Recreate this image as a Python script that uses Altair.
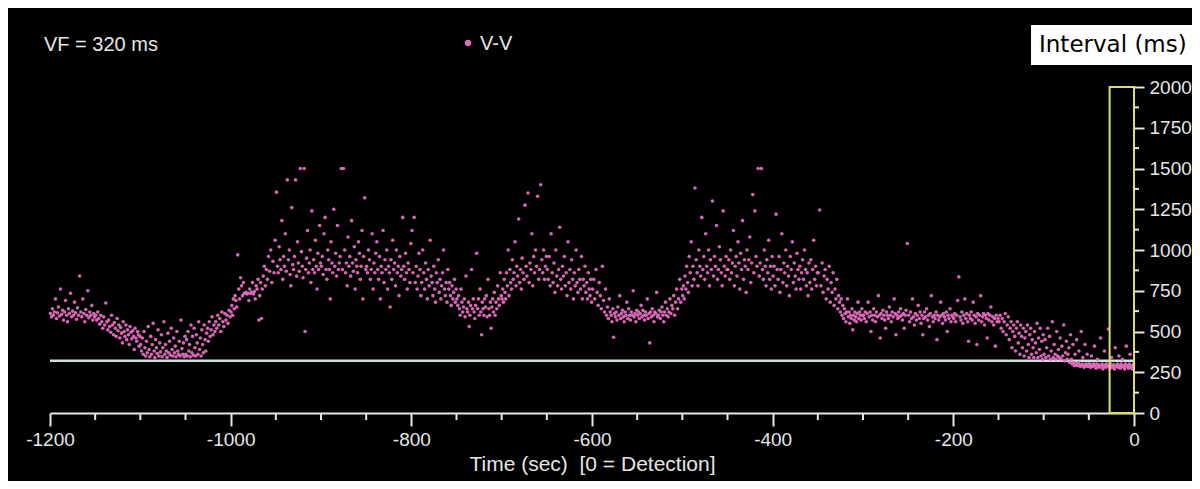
import altair as alt
import pandas as pd

# ---- beat-to-beat (V-V) intervals in ms, read per 50-second window ----
SEG_STARTS = [-1200, -1150, -1100, -1050, -1000, -950, -900, -850, -800, -750, -700, -650,
              -600, -550, -500, -450, -400, -350, -300, -250, -200, -150, -100, -50]
SEG_LEN = 50

S01 = [610,590,640,600,620,700,580,615,650,595,760,605,630,570,620,690,600,560,640,610,735,590,625,600,680,615,575,645,600,840,620,590,700,610,560,635,600,750,585,620,600,660,570,610,590]
S02 = [600,570,620,580,545,600,560,520,590,540,675,560,510,570,530,495,600,540,480,555,520,470,580,505,540,460,525,490,430,560,500,470,540,450,510,480,420,530,495,455,505,470,390,520,460,440,500,480,410,470]
S03 = [420,380,460,360,500,400,350,440,370,530,390,345,470,360,420,550,380,340,450,400,365,510,350,430,375,480,345,400,560,360,420,380,340,490,370,440,355,520,390,350,460,370,410,345,500,380,360,440,350,570,395,360,430,345,470]
S04 = [360,450,350,500,380,420,345,540,370,470,355,520,400,350,480,430,360,560,390,460,350,510,420,370,540,450,380,490,520,440,560,470,510,590,480,540,500,560,520,600,540,580,500,620,560,530,610,570,600,550,630,590]
S05 = [620,660,600,700,640,720,690,650,970,760,700,830,780,720,800,735,735,740,730,735,690,760,735,740,800,730,745,700,780,760,820,570,720,800,580,760,840,900,780,880,820,960,870,1000,800,930,860,1060]
S06 = [1355,900,860,1020,940,880,1180,820,960,900,1100,870,1430,940,1000,850,780,1260,910,880,960,1430,840,1050,920,870,1500,990,900,830,1500,500,880,950,1120,860,920,1000,800,1240,880,940,860,1060,900,760,980,880,1150,920]
S07 = [900,960,850,1100,1200,880,820,1000,940,880,700,1050,920,860,1250,900,980,840,1150,880,920,960,1500,880,1500,1000,860,920,780,1080,900,960,840,1180,920,870,1020,760,940,900,860,1050,980,820,900,1120,700,960,1320,880]
S08 = [900,860,1000,940,820,880,1100,760,920,860,980,1050,880,820,960,700,900,860,1120,800,940,880,1000,760,900,860,650,940,820,1060,880,920,780,1000,860,900,720,960,840,880,1200,900,820,980,860,760,920,880,800,1040]
S09 = [1120,860,1200,800,900,760,840,980,880,720,800,1000,860,760,920,820,700,880,780,1060,840,800,720,900,760,680,860,800,940,740,820,700,780,860,1000,760,720,800,680,880,760,800,720,660,780,700,740,820,680,760]
S10 = [700,660,720,640,600,760,680,620,650,700,590,840,640,620,680,530,600,660,880,640,700,620,580,660,980,640,700,600,760,620,480,680,640,600,700,650,720,590,820,640,600,680,520,650,700,620,740,600,680,640,780,700,660,860,720]
S11 = [700,760,680,820,740,700,860,780,1000,720,880,800,760,940,820,860,1050,780,900,840,1190,800,880,760,950,860,820,1275,900,840,1350,800,920,880,1100,780,960,860,1000,900,1330,820,880,1400,940,860,1000,820,900,960]
S12 = [880,820,960,780,1100,860,800,920,740,1000,840,780,880,1140,820,760,900,840,960,780,860,720,1050,800,880,760,940,820,700,860,780,1000,800,740,880,820,760,960,700,820,780,900,740,800,700,860,760,720,820,680]
S13 = [760,820,700,880,740,660,800,720,640,900,690,620,760,600,650,580,700,620,600,560,640,465,610,590,620,570,650,600,720,580,610,630,590,560,620,600,680,580,640,600,570,620,600,750,590,610,560,630]
S14 = [600,620,580,610,660,590,630,600,570,620,600,700,580,610,430,620,590,640,600,560,620,610,740,590,600,630,580,620,650,600,560,620,680,600,640,590,620,700,610,660,640,720,600,680,760,640,700,820,680,760]
S15 = [720,780,700,840,760,900,800,740,960,860,1050,780,900,820,1380,940,860,780,1000,900,840,1200,880,960,820,1100,900,860,1000,780,940,880,1300,840,960,900,1150,820,880,1020,940,860,780,1240,900,840,960,880]
S16 = [880,940,820,1000,860,920,1120,780,900,960,840,1050,920,760,980,880,1180,820,940,900,740,1000,880,940,1080,800,920,1340,860,1240,960,900,1500,840,920,1500,880,820,1000,900,780,940,860,1060,820,900,760,960]
S17 = [840,900,780,1220,880,820,960,740,880,1100,800,920,860,1000,780,900,840,720,960,880,1050,800,920,840,760,980,880,820,900,760,860,940,820,1000,880,780,860,720,920,800,940,760,880,1060,820,900,780,860]
S18 = [860,1245,780,920,740,840,880,700,820,760,900,680,800,740,860,660,760,700,820,640,720,680,620,700,600,660,580,640,610,560,620,700,590,620,550,600,580,640,510,600,570,620,590,560,610,680,580,620,600,570,640,600]
S19 = [600,580,620,560,610,680,590,620,500,600,570,640,600,560,620,590,720,600,460,610,580,630,600,570,520,620,600,580,650,600,560,620,590,700,610,480,600,580,620,590,640,600,570,610,520,600,630,1040]
S20 = [600,560,620,580,700,590,540,610,570,600,660,580,620,550,600,480,580,620,590,640,570,600,530,610,720,590,560,600,580,620,450,600,570,590,680,600,550,610,590,570,620,500,600,580,640,560,600,590]
S21 = [580,610,560,600,690,835,590,570,620,550,600,700,580,610,560,440,600,580,620,570,680,600,550,590,420,610,570,600,720,560,590,610,540,600,580,460,610,570,600,650,560,590,540,580,410,600,560,580]
S22 = [560,600,520,580,500,560,610,480,540,590,450,520,560,400,500,540,470,380,520,560,430,490,360,540,470,400,520,350,460,500,380,540,420,340,480,520,360,450,400,340,500,430,370,550,340,460,390,520,350,440,330,480]
S23 = [360,450,340,400,520,350,470,330,380,560,340,420,360,330,500,350,390,340,460,330,410,350,540,320,370,440,330,360,400,310,480,330,300,420,310,290,360,300,450,290,310,380,295,285,500,300,340,290,280,420,300,290,360,285,300]
S24 = [290,300,280,350,295,285,300,410,290,275,300,330,285,295,280,460,290,300,270,285,380,295,280,300,290,515,285,275,300,340,290,280,295,270,400,290,285,300,280,350,290,275,300,285,330,290,280,270,300,410,285,290,275,300,360,280,290,270,285,300]

SEGMENTS = [S01, S02, S03, S04, S05, S06, S07, S08, S09, S10, S11, S12,
            S13, S14, S15, S16, S17, S18, S19, S20, S21, S22, S23, S24]

VF_THRESHOLD = 320          # ms
DETECT_WINDOW = [-27, 0]    # sec (yellow box)
Y_MAX = 2000
X_TICKS = [-1200, -1000, -800, -600, -400, -200, 0]
X_MINOR = [-1150, -1100, -1050, -950, -900, -850, -750, -700, -650, -550, -500, -450,
           -350, -300, -250, -150, -100, -50]
Y_TICKS = [0, 250, 500, 750, 1000, 1250, 1500, 1750, 2000]
Y_MINOR = [125, 375, 625, 875, 1125, 1375, 1625, 1875]

# each beat is placed at the middle of its own interval, the window's intervals
# being stretched to fill their 50-second window
rows = []
for start, vals in zip(SEG_STARTS, SEGMENTS):
    total = float(sum(vals))
    acc = 0.0
    for v in vals:
        acc += v
        rows.append({"t": start + SEG_LEN * (acc - v / 2.0) / total, "v": v})
pts = pd.DataFrame(rows)

W, H = 1084, 326
FONT = "Liberation Sans, Arial, sans-serif"
FG = "#e6e6e6"
PINK = "#e06cbd"
NBSP = "\u00a0"

xscale = alt.Scale(domain=[-1200, 0], nice=False, zero=False)
yscale = alt.Scale(domain=[0, Y_MAX], nice=False)

XAX = alt.Axis(values=X_TICKS, title="Time (sec)" + NBSP * 2 + "[0 = Detection]",
               labelExpr="'' + datum.value",
               labelFontSize=19, labelFont=FONT, labelColor=FG,
               titleFont=FONT, titleFontSize=21, titleFontWeight="normal",
               titleColor=FG, titlePadding=4,
               tickSize=13, tickWidth=2, tickColor=FG,
               domainColor=FG, domainWidth=2, labelPadding=4,
               labelFlush=False, labelOverlap=False, grid=False)
YAX = alt.Axis(orient="right", values=Y_TICKS, title=None,
               labelExpr="'' + datum.value",
               labelFontSize=19, labelFont=FONT, labelColor=FG,
               tickSize=10, tickWidth=2, tickColor=FG, domain=False,
               labelPadding=5, labelFlush=False, grid=False)

points = alt.Chart(pts).mark_circle(size=13, color=PINK, opacity=0.95).encode(
    x=alt.X("t:Q", scale=xscale, axis=XAX),
    y=alt.Y("v:Q", scale=yscale, axis=YAX),
)

thr = pd.DataFrame({"t": [-1200], "t2": [0], "v": [VF_THRESHOLD]})
thr_line = alt.Chart(thr).mark_rule(color="#d4dede", strokeWidth=2.5).encode(
    x=alt.X("t:Q", scale=xscale, axis=XAX), x2="t2:Q",
    y=alt.Y("v:Q", scale=yscale, axis=YAX))

box = pd.DataFrame({"t": [DETECT_WINDOW[0]], "t2": [DETECT_WINDOW[1]], "v": [0], "v2": [Y_MAX]})
det_box = alt.Chart(box).mark_rect(fill=None, fillOpacity=0, stroke="#dede70", strokeWidth=2).encode(
    x=alt.X("t:Q", scale=xscale, axis=XAX), x2="t2:Q",
    y=alt.Y("v:Q", scale=yscale, axis=YAX), y2="v2:Q")

xmin = alt.Chart(pd.DataFrame({"t": X_MINOR})).mark_rule(color=FG, strokeWidth=2).encode(
    x=alt.X("t:Q", scale=xscale, axis=XAX), y=alt.value(H), y2=alt.value(H + 7))
ymin = alt.Chart(pd.DataFrame({"v": Y_MINOR})).mark_rule(color=FG, strokeWidth=2).encode(
    y=alt.Y("v:Q", scale=yscale, axis=YAX), x=alt.value(W), x2=alt.value(W + 5))

def label(txt, x, y, size, color=FG, font=FONT, align="left"):
    return alt.Chart(pd.DataFrame({"s": [txt]})).mark_text(
        align=align, baseline="middle", fontSize=size, font=font, color=color).encode(
        text="s:N", x=alt.value(x), y=alt.value(y))

vf_text = label("VF = 320 ms", -6, -42, 20)
leg_dot = alt.Chart(pd.DataFrame({"s": ["V-V"]})).mark_circle(size=40, color=PINK, opacity=1).encode(
    x=alt.value(418), y=alt.value(-44))
leg_text = label("V-V", 430, -43, 20)
ibox = alt.Chart(pd.DataFrame({"s": ["b"]})).mark_rect(color="white").encode(
    x=alt.value(981), x2=alt.value(1160), y=alt.value(-62), y2=alt.value(-22))
itext = label("Interval (ms)", 989, -42, 23, color="black", font="DejaVu Sans, Verdana, sans-serif")

chart = alt.layer(thr_line, points, det_box, xmin, ymin, vf_text, leg_dot, leg_text, ibox, itext).properties(
    width=W, height=H,
    padding={"left": 42, "top": 79, "right": 58, "bottom": 68},
    autosize=alt.AutoSizeParams(type="none"),
).configure(background="black").configure_view(stroke=None)

chart.save("out.html", embed_options={"renderer": "svg", "actions": False})
